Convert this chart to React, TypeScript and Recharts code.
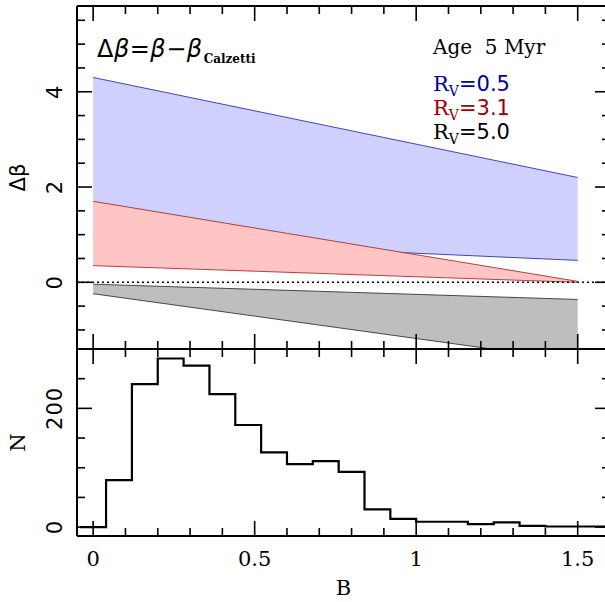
import React from "react";
import { ComposedChart, Area, Line, XAxis, YAxis, ReferenceLine, Label } from "recharts";

// band edges at B = 0 and B = 1.5
const bandB = [0, 1.5];
const blueUpper = [4.3, 2.2];
const blueLower = [0.91, 0.46];
const redUpper = [1.7, 0.02];
const redLower = [0.35, 0.0];
const grayUpper = [-0.04, -0.36];
const grayLower = [-0.24, -1.65];

// histogram of B (bin edges, counts per bin)
const binEdges = [
  -0.04, 0.04, 0.12, 0.2, 0.28, 0.36, 0.44, 0.52, 0.6, 0.68, 0.76, 0.84, 0.92, 1.0, 1.08, 1.16,
  1.24, 1.32, 1.4, 1.48, 1.56, 1.64,
];
const binCounts = [0, 79, 241, 284, 272, 224, 172, 126, 106, 111, 93, 30, 14, 9, 9, 5, 8, 2, 1, 1, 1];

const xTicks = [0, 0.1, 0.2, 0.3, 0.4, 0.5, 0.6, 0.7, 0.8, 0.9, 1, 1.1, 1.2, 1.3, 1.4, 1.5];
const xLabels = [0, 0.5, 1, 1.5];
const dbTicks = [-1, -0.5, 0, 0.5, 1, 1.5, 2, 2.5, 3, 3.5, 4, 4.5, 5, 5.5];
const dbLabels = [0, 2, 4];
const nTicks = [0, 50, 100, 150, 200, 250];
const nLabels = [0, 200];

const bandData = bandB.map((b, i) => ({
  b,
  blue: [blueLower[i], blueUpper[i]],
  red: [redLower[i], redUpper[i]],
  gray: [grayLower[i], grayUpper[i]],
}));

const histData = binEdges.map((b, i) => ({
  b,
  n: binCounts[Math.min(i, binCounts.length - 1)],
}));

const X_DOMAIN: [number, number] = [-0.05, 1.6];
const SERIF = "DejaVu Serif";
const SANS = "DejaVu Sans";

type Side = "top" | "bottom" | "left" | "right";

function tickMark(side: Side, majorStep: number, labels: number[] = []) {
  return (props: any) => {
    const { x, y, payload } = props;
    const v = payload.value as number;
    const major = Math.abs(v / majorStep - Math.round(v / majorStep)) < 1e-6;
    const len = major ? 15 : 8;
    const dx = side === "left" ? len : side === "right" ? -len : 0;
    const dy = side === "bottom" ? -len : side === "top" ? len : 0;
    const show = labels.some((l) => Math.abs(l - v) < 1e-6);
    return (
      <g>
        <line x1={x} y1={y} x2={x + dx} y2={y + dy} stroke="#000" strokeWidth={1.6} />
        {show && side === "bottom" && (
          <text x={x} y={y + 30} textAnchor="middle" fontFamily={SERIF} fontSize={21} fill="#000">
            {String(v)}
          </text>
        )}
        {show && side === "left" && (
          <text
            x={x - 22}
            y={y}
            transform={`rotate(-90 ${x - 22} ${y})`}
            textAnchor="middle"
            dominantBaseline="central"
            fontFamily={SANS}
            fontSize={21}
            letterSpacing={1}
            fill="#000"
          >
            {String(v)}
          </text>
        )}
      </g>
    );
  };
}

const axisLine = { stroke: "#000", strokeWidth: 2 };

function yTitle(text: string, font: string) {
  return (props: any) => {
    const vb = props.viewBox;
    const cx = vb.x + vb.width - 59;
    const cy = vb.y + vb.height / 2;
    return (
      <text
        x={cx}
        y={cy}
        transform={`rotate(-90 ${cx} ${cy})`}
        textAnchor="middle"
        dominantBaseline="central"
        fontFamily={font}
        fontSize={21}
        fill="#000"
      >
        {text}
      </text>
    );
  };
}

const xAxisCommon = {
  type: "number" as const,
  dataKey: "b",
  domain: X_DOMAIN,
  allowDataOverflow: true,
  ticks: xTicks,
  interval: 0,
  height: 1,
  tickSize: 0,
  tickMargin: 0,
  axisLine,
  tickLine: false,
};

const yAxisCommon = {
  type: "number" as const,
  allowDataOverflow: true,
  interval: 0,
  width: 1,
  tickSize: 0,
  tickMargin: 0,
  axisLine,
  tickLine: false,
};

function TopPanel() {
  return (
    <ComposedChart
      width={620}
      height={360}
      data={bandData}
      margin={{ top: 5, right: 9, bottom: 10, left: 76 }}
    >
      <Area
        xAxisId="b"
        yAxisId="l"
        type="linear"
        dataKey="blue"
        fill="#d0d0ff"
        fillOpacity={1}
        stroke="#1a1aa0"
        strokeWidth={0.8}
        isAnimationActive={false}
      />
      <Area
        xAxisId="b"
        yAxisId="l"
        type="linear"
        dataKey="red"
        fill="#ffc4c4"
        fillOpacity={1}
        stroke="#a01a1a"
        strokeWidth={0.8}
        isAnimationActive={false}
      />
      <Area
        xAxisId="b"
        yAxisId="l"
        type="linear"
        dataKey="gray"
        fill="#bebebe"
        fillOpacity={1}
        stroke="#222"
        strokeWidth={0.8}
        isAnimationActive={false}
      />
      <ReferenceLine xAxisId="b" yAxisId="l" y={0} stroke="#000" strokeWidth={1.6} strokeDasharray="2 3" />
      <XAxis xAxisId="b" orientation="bottom" {...xAxisCommon} tick={tickMark("bottom", 0.5)} />
      <XAxis xAxisId="t" orientation="top" {...xAxisCommon} tick={tickMark("top", 0.5)} />
      <YAxis
        yAxisId="l"
        orientation="left"
        domain={[-1.4, 5.8]}
        ticks={dbTicks}
        {...yAxisCommon}
        tick={tickMark("left", 2, dbLabels)}
      >
        <Label content={yTitle("Δβ", SANS)} />
      </YAxis>
      <YAxis
        yAxisId="r"
        orientation="right"
        domain={[-1.4, 5.8]}
        ticks={dbTicks}
        {...yAxisCommon}
        tick={tickMark("right", 2)}
      />
    </ComposedChart>
  );
}

function BottomPanel() {
  return (
    <ComposedChart
      width={620}
      height={302}
      data={histData}
      margin={{ top: 48, right: 9, bottom: 65, left: 76 }}
    >
      <Line
        xAxisId="b"
        yAxisId="l"
        type="stepAfter"
        dataKey="n"
        stroke="#000"
        strokeWidth={2.2}
        dot={false}
        isAnimationActive={false}
      />
      <XAxis xAxisId="b" orientation="bottom" {...xAxisCommon} tick={tickMark("bottom", 0.5, xLabels)}>
        <Label
          content={(p: any) => (
            <text
              x={p.viewBox.x + p.viewBox.width / 2}
              y={p.viewBox.y + 59}
              textAnchor="middle"
              fontFamily={SERIF}
              fontSize={21}
              fill="#000"
            >
              B
            </text>
          )}
        />
      </XAxis>
      <XAxis xAxisId="t" orientation="top" {...xAxisCommon} tick={tickMark("top", 0.5)} />
      <YAxis
        yAxisId="l"
        orientation="left"
        domain={[-15, 300]}
        ticks={nTicks}
        {...yAxisCommon}
        tick={tickMark("left", 200, nLabels)}
      >
        <Label content={yTitle("N", SERIF)} />
      </YAxis>
      <YAxis
        yAxisId="r"
        orientation="right"
        domain={[-15, 300]}
        ticks={nTicks}
        {...yAxisCommon}
        tick={tickMark("right", 200)}
      />
    </ComposedChart>
  );
}

function Annotations() {
  const legend = [
    { v: "0.5", color: "#00009c", y: 91 },
    { v: "3.1", color: "#9c0000", y: 115 },
    { v: "5.0", color: "#000000", y: 139 },
  ];
  return (
    <svg
      width={605}
      height={602}
      style={{ position: "absolute", left: 0, top: 0, pointerEvents: "none" }}
    >
      <text x={97} y={57} fontFamily={SANS} fontSize={24} letterSpacing={0.5} fill="#000">
        <tspan>Δ</tspan>
        <tspan fontStyle="italic">β</tspan>
        <tspan>=</tspan>
        <tspan fontStyle="italic">β</tspan>
        <tspan>−</tspan>
        <tspan fontStyle="italic">β</tspan>
        <tspan fontFamily={SERIF} fontWeight="bold" fontSize={12} letterSpacing={0} dy={6} dx={1}>
          Calzetti
        </tspan>
      </text>
      <text x={433} y={54} fontFamily={SERIF} fontSize={20} fill="#000" xmlSpace="preserve">
        Age  5 Myr
      </text>
      {legend.map((l) => (
        <text key={l.v} x={433} y={l.y} fill={l.color} fontSize={21}>
          <tspan fontFamily={SERIF}>R</tspan>
          <tspan fontFamily={SERIF} fontSize={14} dy={5}>
            V
          </tspan>
          <tspan fontFamily={SANS} dy={-5}>
            ={l.v}
          </tspan>
        </text>
      ))}
    </svg>
  );
}

export default function App() {
  return (
    <div
      style={{
        position: "absolute",
        left: 0,
        top: 0,
        width: 605,
        height: 602,
        overflow: "hidden",
        background: "#fff",
      }}
    >
      <div style={{ position: "absolute", left: 0, top: 0 }}>
        <TopPanel />
      </div>
      <div style={{ position: "absolute", left: 0, top: 300 }}>
        <BottomPanel />
      </div>
      <Annotations />
    </div>
  );
}
